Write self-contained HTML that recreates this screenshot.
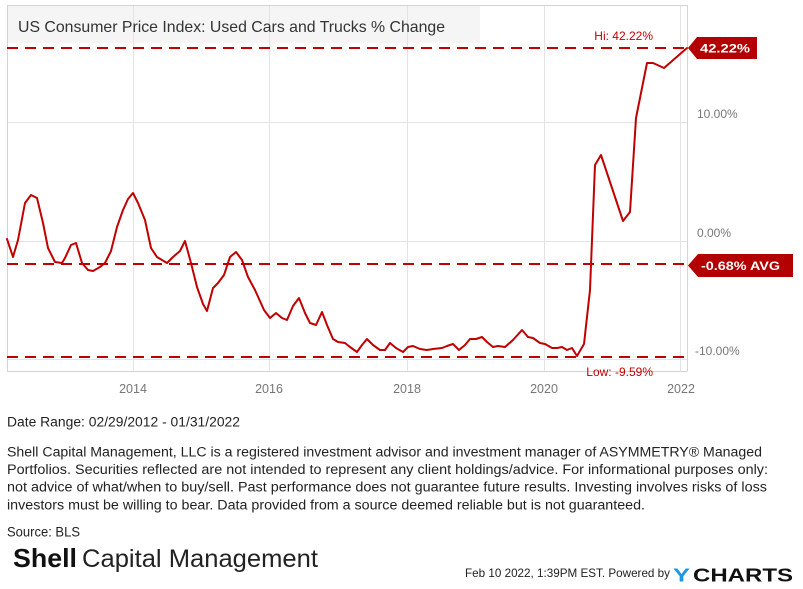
<!DOCTYPE html>
<html>
<head>
<meta charset="utf-8">
<style>
html,body{margin:0;padding:0;background:#fff;}
svg{display:block;}
text{font-family:"Liberation Sans",sans-serif;}
</style>
</head>
<body>
<svg width="803" height="589" viewBox="0 0 803 589" xmlns="http://www.w3.org/2000/svg">
<rect x="0" y="0" width="803" height="589" fill="#fff"/>
<!-- title box -->
<rect x="7" y="5" width="473" height="38" fill="#f5f5f5"/>
<!-- gridlines -->
<g stroke="#e3e3e3" stroke-width="1" fill="none">
<line x1="7" y1="122.5" x2="687" y2="122.5"/>
<line x1="7" y1="241.5" x2="687" y2="241.5"/>
<line x1="7" y1="359.5" x2="687" y2="359.5"/>
<line x1="133.5" y1="5" x2="133.5" y2="371"/>
<line x1="269.5" y1="5" x2="269.5" y2="371"/>
<line x1="407.5" y1="5" x2="407.5" y2="371"/>
<line x1="544.5" y1="5" x2="544.5" y2="371"/>
<line x1="680.5" y1="5" x2="680.5" y2="371"/>
</g>
<!-- borders -->
<g stroke="#d4d4d4" stroke-width="1" fill="none">
<line x1="7" y1="5.5" x2="687" y2="5.5"/>
<line x1="7.5" y1="5" x2="7.5" y2="371.5"/>
<line x1="7" y1="371.5" x2="687" y2="371.5"/>
<line x1="687.5" y1="5" x2="687.5" y2="371.5"/>
</g>
<!-- title -->
<text x="18" y="32" font-size="16" fill="#333" textLength="427" lengthAdjust="spacingAndGlyphs">US Consumer Price Index: Used Cars and Trucks % Change</text>
<!-- dashed lines -->
<g stroke="#c00000" stroke-width="2" stroke-dasharray="11 7" fill="none">
<line x1="7" y1="48" x2="687" y2="48"/>
<line x1="7" y1="264" x2="687" y2="264"/>
<line x1="7" y1="357" x2="687" y2="357"/>
</g>
<!-- series -->
<polyline fill="none" stroke="#c00000" stroke-width="2" stroke-linejoin="round" stroke-linecap="round" points="7,239 13,257 18,240 25,203 31,195 37,198 43,223 48,248 55,262 62,263 65,258 71,245 76,243 82,263 88,270 93,271 100,267 105,263 111,251 117,227 123,210 128,199 133,193 138,203 145,220 151,248 157,257 167,263 173,257 180,251 185,241 191,263 197,287 203,304 207,311 213,288 218,283 224,275 230,257 236,252 242,260 248,277 255,290 264,310 270,318 276,313 282,318 287,320 293,306 299,298 305,313 310,323 316,325 322,312 327,325 333,339 338,342 345,343 350,347 357,352 362,345 367,339 373,345 380,350 385,350 390,343 396,348 403,352 408,347 413,346 420,349 427,350 433,349 442,348 447,346 453,344 459,350 465,345 470,339 476,339 482,337 487,342 493,347 498,346 505,347 513,340 522,330 528,337 533,338 540,343 545,344 552,348 557,348 562,347 567,350 572,348 577,356 584,344 590,290 595,165 601,155 623,221 630,212 636,118 647,63 653,63 664,68 687,48"/>
<!-- hi / low labels -->
<text x="653" y="40" font-size="12" fill="#c00000" text-anchor="end">Hi: 42.22%</text>
<text x="653" y="376" font-size="12" fill="#c00000" text-anchor="end">Low: -9.59%</text>
<!-- right axis labels -->
<g font-size="12" fill="#777">
<text x="697" y="118">10.00%</text>
<text x="697" y="237">0.00%</text>
<text x="695" y="355">-10.00%</text>
</g>
<!-- x axis labels -->
<g font-size="12.5" fill="#777" text-anchor="middle">
<text x="133" y="393">2014</text>
<text x="269" y="393">2016</text>
<text x="407" y="393">2018</text>
<text x="544" y="393">2020</text>
<text x="681" y="393">2022</text>
</g>
<!-- value flags -->
<polygon points="688,48 697,37 757,37 757,59 697,59" fill="#b30000"/>
<text x="725" y="52.5" font-size="12" font-weight="bold" fill="#fff" text-anchor="middle" textLength="50" lengthAdjust="spacingAndGlyphs">42.22%</text>
<polygon points="688,265.5 698,254 793,254 793,277 698,277" fill="#b30000"/>
<text x="740.5" y="270" font-size="12" font-weight="bold" fill="#fff" text-anchor="middle" textLength="79" lengthAdjust="spacingAndGlyphs">-0.68% AVG</text>
<!-- footer -->
<g font-size="13.5" fill="#222">
<text x="7" y="426.5" textLength="233" lengthAdjust="spacingAndGlyphs">Date Range: 02/29/2012 - 01/31/2022</text>
<text x="7" y="456.5" textLength="755" lengthAdjust="spacingAndGlyphs">Shell Capital Management, LLC is a registered investment advisor and investment manager of ASYMMETRY® Managed</text>
<text x="7" y="474" textLength="761" lengthAdjust="spacingAndGlyphs">Portfolios. Securities reflected are not intended to represent any client holdings/advice. For informational purposes only:</text>
<text x="7" y="491.5" textLength="760" lengthAdjust="spacingAndGlyphs">not advice of what/when to buy/sell. Past performance does not guarantee future results. Investing involves risks of loss</text>
<text x="7" y="509.5" textLength="638" lengthAdjust="spacingAndGlyphs">investors must be willing to bear. Data provided from a source deemed reliable but is not guaranteed.</text>
<text x="7" y="536.5" textLength="73" lengthAdjust="spacingAndGlyphs">Source: BLS</text>
</g>
<!-- logo -->
<text x="13" y="567" font-size="26" font-weight="bold" fill="#111" textLength="64" lengthAdjust="spacingAndGlyphs">Shell</text>
<text x="82" y="567" font-size="25" fill="#222" textLength="236" lengthAdjust="spacingAndGlyphs">Capital Management</text>
<!-- ycharts -->
<text x="465" y="577" font-size="12" fill="#222" textLength="205" lengthAdjust="spacingAndGlyphs">Feb 10 2022, 1:39PM EST.  Powered by</text>
<text x="673" y="581.5" font-size="18" font-weight="bold" fill="#1e97e3" textLength="17" lengthAdjust="spacingAndGlyphs">Y</text>
<text x="693" y="581.5" font-size="18" font-weight="bold" fill="#111" textLength="100" lengthAdjust="spacingAndGlyphs">CHARTS</text>
</svg>
</body>
</html>
